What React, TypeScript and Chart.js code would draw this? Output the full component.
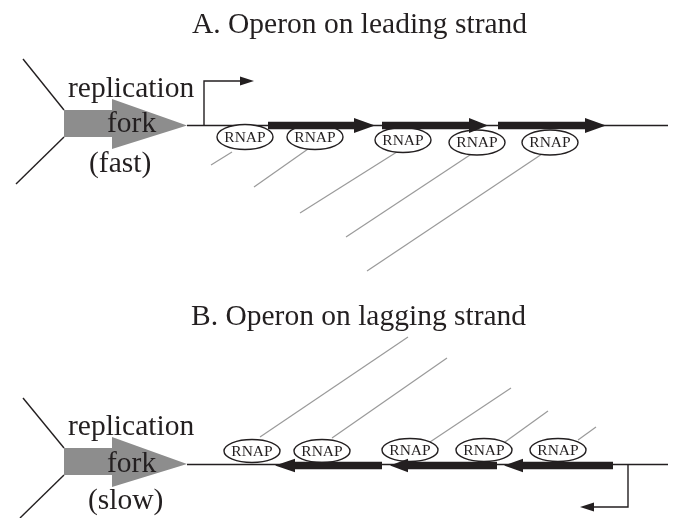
import React, { useEffect, useRef } from "react";
import { Chart, registerables } from "chart.js";

Chart.register(...registerables);

type P = [number, number];

const INK = "#231f20";
const GRAY_FILL = "#8d8d8d";
const GRAY_LINE = "#9a9a9a";
const FONT = '"Liberation Serif", "Times New Roman", serif';

// ---- text ----
const titleTexts = ["A. Operon on leading strand", "B. Operon on lagging strand"];
const titleAnchors: P[] = [[192, 33], [191, 325]];

const forkLabelTexts = ["replication", "fork", "(fast)", "replication", "fork", "(slow)"];
const forkLabelAnchors: P[] = [[68, 97], [107, 132], [89, 172], [68, 435], [107, 472], [88, 509]];

const rnapLabel = "RNAP";

// ---- panel geometry (values in diagram units) ----
const strandLevels = [125.5, 464.5];

const forkArms: P[][] = [
  [[23, 59], [64, 110]],
  [[64, 137], [16, 184]],
  [[23, 398], [64, 448]],
  [[64, 475], [20, 518]],
];

const strands: P[][] = [
  [[187, 125.5], [668, 125.5]],
  [[187, 464.5], [668, 464.5]],
];

const promoterStems: P[][] = [
  [[204, 125.5], [204, 81], [242, 81]],
  [[628, 464.5], [628, 507], [592, 507]],
];

const promoterHeads: P[][] = [
  [[240, 76.5], [254, 81], [240, 85.5]],
  [[594, 502.5], [580, 507], [594, 511.5]],
];

const forkArrows: P[][] = [
  [[64, 110], [112, 110], [112, 99], [187, 125.5], [112, 149], [112, 137], [64, 137]],
  [[64, 448], [112, 448], [112, 437], [187, 464], [112, 487], [112, 475], [64, 475]],
];

// leading strand genes: start, head base, tip (pointing right)
const leadingGenes: number[][] = [[268, 354, 375], [382, 469, 488], [498, 585, 606]];
// lagging strand genes: tip, head base, end (pointing left)
const laggingGenes: number[][] = [[275, 295, 382], [390, 408, 497], [504, 523, 613]];

const rnapA: P[] = [[245, 137], [315, 137], [403, 140], [477, 142.5], [550, 142.5]];
const rnapB: P[] = [[252, 451], [322, 451], [410, 450], [484, 450], [558, 450]];

const transcriptsA: P[][] = [
  [[232, 152], [211, 165]],
  [[308, 149], [254, 187]],
  [[400, 150], [300, 213]],
  [[476, 151], [346, 237]],
  [[542, 154], [367, 271]],
];
const transcriptsB: P[][] = [
  [[260, 437], [408, 337]],
  [[332, 438], [447, 358]],
  [[430, 442], [511, 388]],
  [[505, 442], [548, 411]],
  [[578, 440], [596, 427]],
];

const pts = (a: P[]) => a.map(([x, y]) => ({ x, y }));

function geneRight(g: number[], y: number): P[] {
  const [s, hb, tip] = g;
  return [[s, y - 3.7], [hb, y - 3.7], [hb, y - 7.5], [tip, y], [hb, y + 7.5], [hb, y + 3.7], [s, y + 3.7]];
}
function geneLeft(g: number[], y: number): P[] {
  const [tip, hb, e] = g;
  return [[e, y - 3.7], [hb, y - 3.7], [hb, y - 6.8], [tip, y], [hb, y + 6.8], [hb, y + 3.7], [e, y + 3.7]];
}

function lineDs(a: P[], color: string, width: number) {
  return {
    data: pts(a),
    showLine: true,
    borderColor: color,
    borderWidth: width,
    pointRadius: 0,
    tension: 0,
    borderCapStyle: "butt",
    borderJoinStyle: "miter",
    clip: false,
  } as any;
}
function polyDs(a: P[], color: string) {
  return { data: pts(a), showLine: false, pointRadius: 0, kind: "polygon", fillColor: color, clip: false } as any;
}

const diagramPlugin = {
  id: "diagram",
  beforeDraw(chart: any) {
    const c = chart.ctx;
    c.save();
    c.fillStyle = "#ffffff";
    c.fillRect(0, 0, chart.width, chart.height);
    c.restore();
  },
  afterDatasetsDraw(chart: any) {
    const c: CanvasRenderingContext2D = chart.ctx;
    const xs = chart.scales.x;
    const ds = chart.data.datasets;
    const passes = ["polygon", "ellipse", "gene", "text"];
    for (const kind of passes) {
      ds.forEach((d: any, i: number) => {
        if (d.kind !== kind) return;
        const meta = chart.getDatasetMeta(i);
        const els = meta.data;
        c.save();
        if (kind === "polygon" || kind === "gene") {
          c.beginPath();
          els.forEach((e: any, k: number) => (k === 0 ? c.moveTo(e.x, e.y) : c.lineTo(e.x, e.y)));
          c.closePath();
          c.fillStyle = d.fillColor;
          c.fill();
        } else if (kind === "ellipse") {
          const rx = Math.abs(xs.getPixelForValue(d.rx) - xs.getPixelForValue(0));
          const ys = chart.scales.y;
          const ry = Math.abs(ys.getPixelForValue(d.ry) - ys.getPixelForValue(0));
          els.forEach((e: any) => {
            c.beginPath();
            c.ellipse(e.x, e.y, rx, ry, 0, 0, Math.PI * 2);
            c.fillStyle = "#ffffff";
            c.fill();
            c.lineWidth = 1.4;
            c.strokeStyle = INK;
            c.stroke();
            c.fillStyle = INK;
            c.font = `15.5px ${FONT}`;
            c.textAlign = "center";
            c.textBaseline = "middle";
            c.fillText(rnapLabel, e.x, e.y + 0.5);
          });
        } else if (kind === "text") {
          c.fillStyle = INK;
          c.font = d.font;
          c.textAlign = "left";
          c.textBaseline = "alphabetic";
          els.forEach((e: any, k: number) => c.fillText(d.texts[k], e.x, e.y));
        }
        c.restore();
      });
    }
  },
};

export default function App() {
  const ref = useRef<HTMLCanvasElement | null>(null);
  useEffect(() => {
    if (!ref.current) return;
    const datasets: any[] = [];
    transcriptsA.forEach((t) => datasets.push(lineDs(t, GRAY_LINE, 1.2)));
    transcriptsB.forEach((t) => datasets.push(lineDs(t, GRAY_LINE, 1.2)));
    forkArms.forEach((t) => datasets.push(lineDs(t, INK, 1.4)));
    strands.forEach((t) => datasets.push(lineDs(t, INK, 1.4)));
    promoterStems.forEach((t) => datasets.push(lineDs(t, INK, 1.4)));
    forkArrows.forEach((p) => datasets.push(polyDs(p, GRAY_FILL)));
    promoterHeads.forEach((p) => datasets.push(polyDs(p, INK)));
    datasets.push({ data: pts(rnapA), kind: "ellipse", rx: 28, ry: 12.5, pointRadius: 0, showLine: false, clip: false });
    datasets.push({ data: pts(rnapB), kind: "ellipse", rx: 28, ry: 11.5, pointRadius: 0, showLine: false, clip: false });
    leadingGenes.forEach((g) => datasets.push({ ...polyDs(geneRight(g, strandLevels[0]), INK), kind: "gene" }));
    laggingGenes.forEach((g) => datasets.push({ ...polyDs(geneLeft(g, strandLevels[1] + 1), INK), kind: "gene" }));
    datasets.push({ data: pts(titleAnchors), kind: "text", texts: titleTexts, font: `29.5px ${FONT}`, pointRadius: 0, showLine: false, clip: false });
    datasets.push({ data: pts(forkLabelAnchors), kind: "text", texts: forkLabelTexts, font: `29.5px ${FONT}`, pointRadius: 0, showLine: false, clip: false });

    const chart = new Chart(ref.current, {
      type: "scatter",
      data: { datasets },
      options: {
        animation: false,
        responsive: false,
        maintainAspectRatio: false,
        events: [],
        layout: { padding: 0 },
        plugins: { legend: { display: false }, tooltip: { enabled: false } },
        scales: {
          x: { type: "linear", min: 0, max: 673, display: false },
          y: { type: "linear", min: 0, max: 518, reverse: true, display: false },
        },
      } as any,
      plugins: [diagramPlugin],
    });
    return () => chart.destroy();
  }, []);
  return (
    <div style={{ position: "absolute", left: 0, top: 0, width: 673, height: 518 }}>
      <canvas ref={ref} width={673} height={518} style={{ display: "block" }} />
    </div>
  );
}
